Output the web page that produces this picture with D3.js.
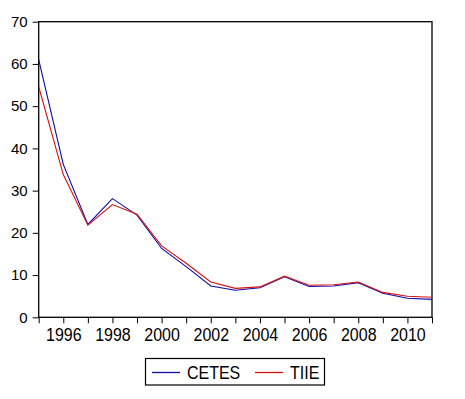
<!DOCTYPE html>
<html>
<head>
<meta charset="utf-8">
<script src="https://cdn.jsdelivr.net/npm/d3@7"></script>
<style>
  body { margin: 0; background: #fff; }
  text { font-family: "Liberation Sans", Arial, sans-serif; fill: #000; }
</style>
</head>
<body>
<div id="chart-area"></div>
<script>
// yearly rates
var years = [1995, 1996, 1997, 1998, 1999, 2000, 2001, 2002, 2003, 2004, 2005, 2006, 2007, 2008, 2009, 2010, 2011];
var cetes = [61.0, 36.2, 22.0, 28.1, 24.2, 16.3, 12.0, 7.4, 6.4, 7.0, 9.6, 7.3, 7.4, 8.2, 5.7, 4.5, 4.25];
var tiie  = [54.6, 33.8, 21.8, 26.7, 24.4, 16.9, 12.8, 8.35, 6.85, 7.2, 9.75, 7.6, 7.7, 8.35, 5.9, 5.0, 4.75];
var yTicks = [0, 10, 20, 30, 40, 50, 60, 70];
var xLabels = [1996, 1998, 2000, 2002, 2004, 2006, 2008, 2010];
var seriesNames = ["CETES", "TIIE"];
var seriesColors = ["#0c0ca8", "#d81010"];

var svg = d3.select("#chart-area")
    .append("svg")
    .attr("width", 465)
    .attr("height", 399);

// plot box edges
var plotL = 38.7, plotR = 432, plotT = 21.7, plotB = 317.3;

var x = d3.scaleLinear().domain([1995, 2011]).range([plotL, plotR]);
var y = d3.scaleLinear().domain([0, 70]).range([plotB, plotT]);

// y axis
var yAxis = svg.append("g")
    .attr("transform", "translate(" + plotL + ",0)")
    .call(d3.axisLeft(y).tickValues(yTicks).tickSize(6).tickPadding(5));
yAxis.select(".domain").remove();
yAxis.selectAll("line").attr("stroke", "#000");
yAxis.selectAll("text")
    .attr("font-size", "15px")
    .attr("font-family", "Liberation Sans, Arial, sans-serif");

// x axis: a tick every year, labels every other year
var xAxis = svg.append("g")
    .attr("transform", "translate(0," + plotB + ")")
    .call(d3.axisBottom(x).tickValues(years).tickSize(6).tickPadding(5)
        .tickFormat(function(d) { return xLabels.indexOf(d) >= 0 ? d : ""; }));
xAxis.select(".domain").remove();
xAxis.selectAll("line").attr("stroke", "#000");
xAxis.selectAll("text")
    .attr("font-size", "16px")
    .attr("font-family", "Liberation Sans, Arial, sans-serif")
    .attr("transform", "translate(0,-1) scale(1,1.1)");

// frame
svg.append("rect")
    .attr("x", plotL)
    .attr("y", plotT)
    .attr("width", plotR - plotL)
    .attr("height", plotB - plotT)
    .attr("fill", "none")
    .attr("stroke", "#000")
    .attr("stroke-width", 1.3);

var line = d3.line()
    .x(function(d, i) { return x(years[i]); })
    .y(function(d) { return y(d); });

[cetes, tiie].forEach(function(s, k) {
    svg.append("path")
        .datum(s)
        .attr("d", line)
        .attr("fill", "none")
        .attr("stroke", seriesColors[k])
        .attr("stroke-width", 1.1);
});

// legend
var legend = svg.append("g");
legend.append("rect")
    .attr("x", 145.5)
    .attr("y", 358.5)
    .attr("width", 179)
    .attr("height", 26.5)
    .attr("fill", "#fff")
    .attr("stroke", "#000")
    .attr("stroke-width", 1.2);

var legX = [152, 255];
seriesNames.forEach(function(name, k) {
    legend.append("line")
        .attr("x1", legX[k])
        .attr("x2", legX[k] + 28)
        .attr("y1", 372.5)
        .attr("y2", 372.5)
        .attr("stroke", seriesColors[k])
        .attr("stroke-width", 1.3);
    legend.append("text")
        .attr("x", legX[k] + 35)
        .attr("y", 378.5)
        .attr("font-size", "16px")
        .attr("transform", "translate(0,-37.8) scale(1,1.1)")
        .text(name);
});
</script>
</body>
</html>
